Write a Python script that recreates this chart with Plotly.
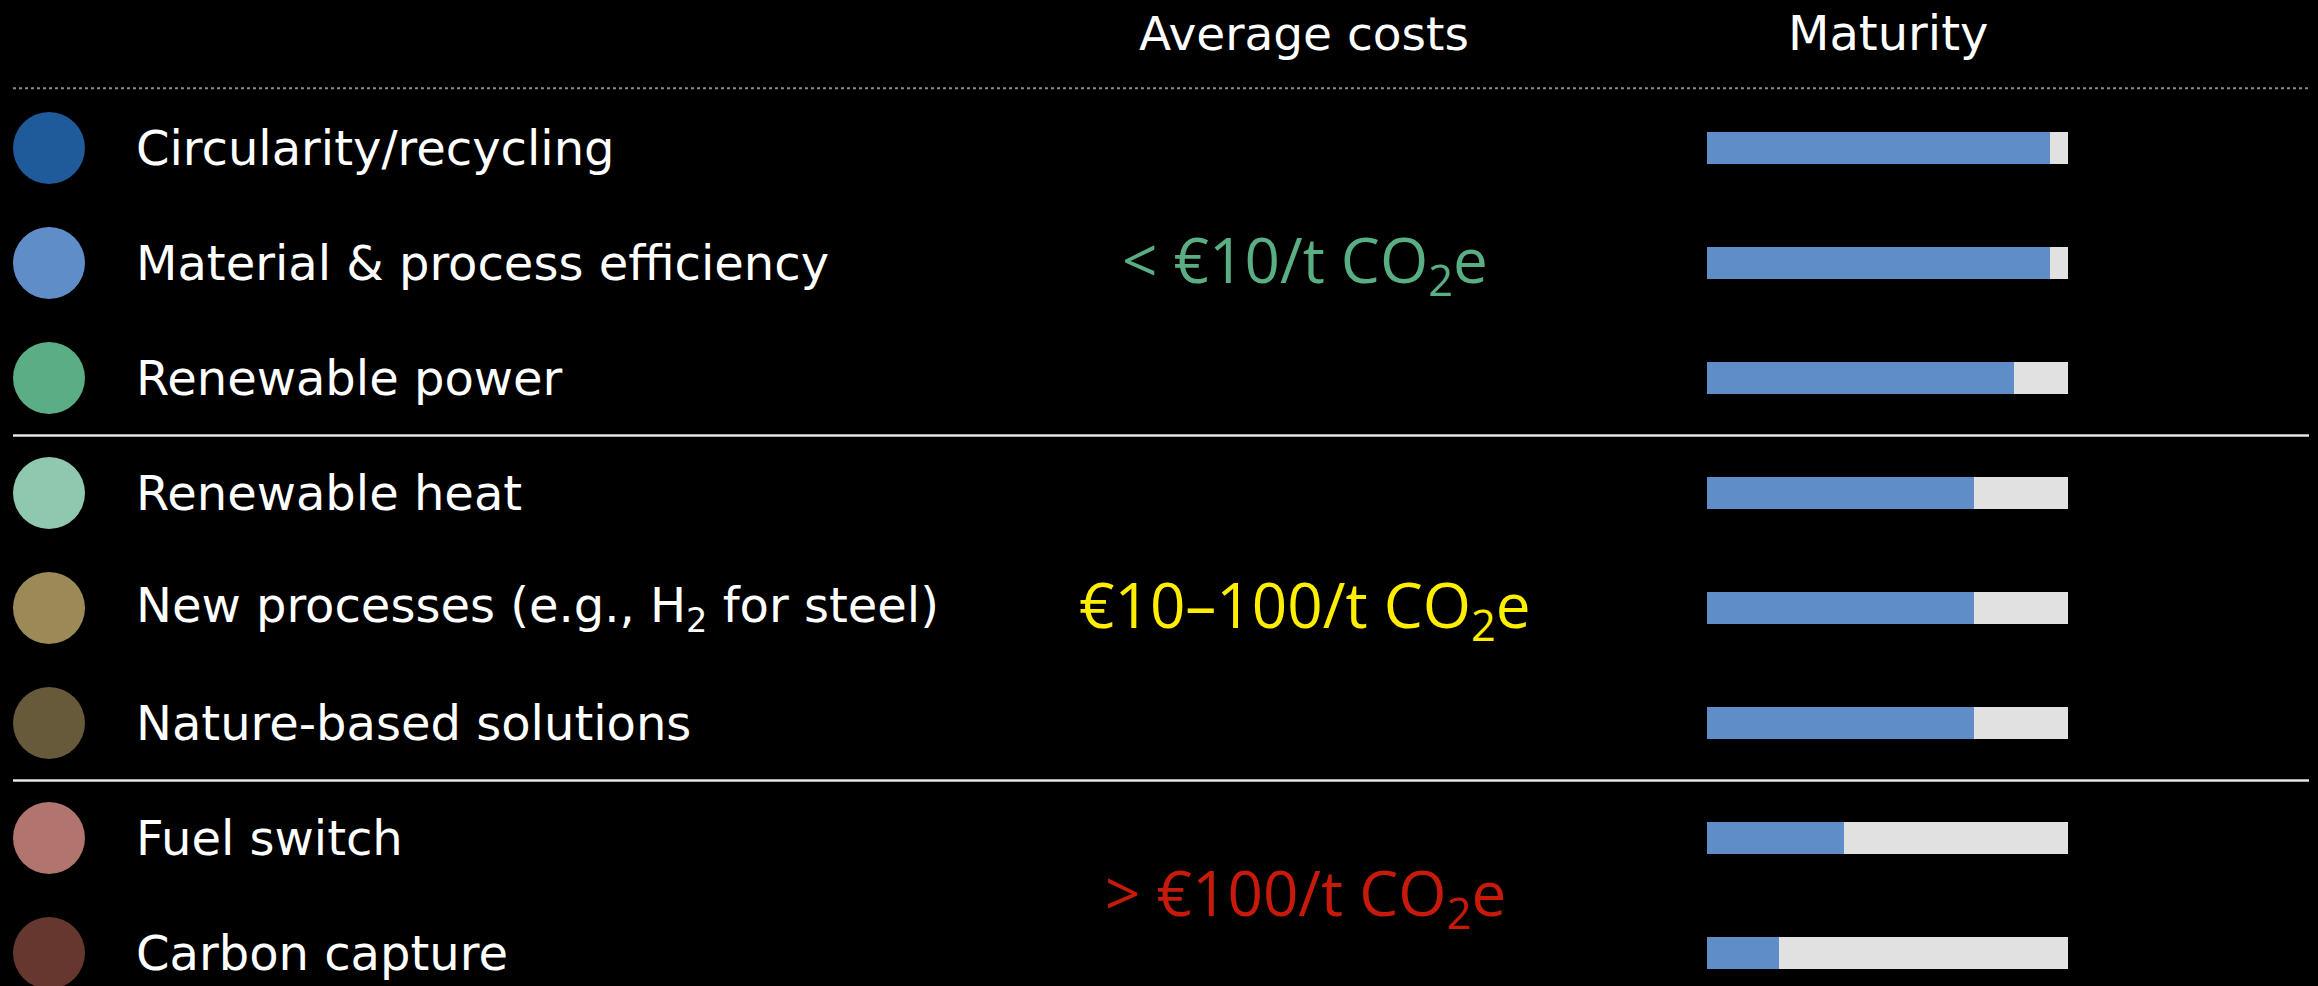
import plotly.graph_objects as go

# ---- data ----
technologies = [
    "Circularity/recycling",
    "Material & process efficiency",
    "Renewable power",
    "Renewable heat",
    "New processes (e.g., H<sub>2</sub> for steel)",
    "Nature-based solutions",
    "Fuel switch",
    "Carbon capture",
]
tech_colors = ["#1f5a9a", "#5f8dc8", "#5aad84", "#8fc8ae",
               "#9b8a58", "#665a3b", "#b1746f", "#66372f"]
maturity = [0.95, 0.95, 0.85, 0.74, 0.74, 0.74, 0.38, 0.20]
cost_group = [0, 0, 0, 1, 1, 1, 2, 2]
cost_labels = ["< €10/t CO<sub>2</sub>e", "€10–100/t CO<sub>2</sub>e", "> €100/t CO<sub>2</sub>e"]
cost_colors = ["#5aae84", "#ffee00", "#c81a0a"]
headers = ["Average costs", "Maturity"]

W, H = 2318, 986
rows = list(range(1, len(technologies) + 1))

LABEL_FONT = "DejaVu Sans"
LABEL_SIZE = 48
COST_FONT = "Open Sans"

fig = go.Figure()

# circles
fig.add_trace(go.Scatter(
    x=[49] * len(rows), y=rows, mode="markers",
    marker=dict(size=72, color=tech_colors, line=dict(width=0)),
    xaxis="x", yaxis="y", hoverinfo="skip", showlegend=False))

# maturity bars: gray background (full scale) + blue value
fig.add_trace(go.Bar(
    y=rows, x=[1] * len(rows), orientation="h", width=0.278,
    marker=dict(color="#e1e1e1", line=dict(width=0)),
    xaxis="x2", yaxis="y", hoverinfo="skip", showlegend=False))
fig.add_trace(go.Bar(
    y=rows, x=maturity, orientation="h", width=0.278,
    marker=dict(color="#5f8dc8", line=dict(width=0)),
    xaxis="x2", yaxis="y", showlegend=False))

annotations = []
for r, t in zip(rows, technologies):
    annotations.append(dict(x=134, y=r, xref="x", yref="y", text=t, showarrow=False,
                            xanchor="left", yanchor="middle",
                            font=dict(family=LABEL_FONT, size=LABEL_SIZE, color="white")))

annotations.append(dict(x=1304, y=0, xref="x", yref="y", text=headers[0], showarrow=False,
                        xanchor="center", yanchor="middle",
                        font=dict(family=LABEL_FONT, size=47, color="white")))
annotations.append(dict(x=0.5, y=0, xref="x2", yref="y", text=headers[1], showarrow=False,
                        xanchor="center", yanchor="middle",
                        font=dict(family=LABEL_FONT, size=LABEL_SIZE, color="white")))

for g, (lab, col) in enumerate(zip(cost_labels, cost_colors)):
    grp_rows = [r for r, cg in zip(rows, cost_group) if cg == g]
    yc = sum(grp_rows) / len(grp_rows)
    annotations.append(dict(x=1305, y=yc, xref="x", yref="y", text=lab, showarrow=False,
                            xanchor="center", yanchor="middle",
                            font=dict(family=COST_FONT, size=62, color=col)))

shapes = [
    dict(type="line", xref="x", yref="y", x0=13, x1=2309, y0=0.48, y1=0.48,
         line=dict(color="#8a8a8a", width=2, dash="dot")),
]
for g in range(1, 3):
    prev_last = max(r for r, cg in zip(rows, cost_group) if cg == g - 1)
    shapes.append(dict(type="line", xref="x", yref="y", x0=13, x1=2309,
                       y0=prev_last + 0.5, y1=prev_last + 0.5,
                       line=dict(color="#e6e6e6", width=2.5)))

fig.update_layout(
    width=W, height=H,
    margin=dict(l=0, r=0, t=0, b=0),
    paper_bgcolor="black", plot_bgcolor="black",
    barmode="overlay", bargap=0,
    xaxis=dict(range=[0, W], domain=[0, 1], visible=False, fixedrange=True),
    xaxis2=dict(range=[0, 1], domain=[1707 / W, 2068 / W], anchor="y",
                visible=False, fixedrange=True),
    yaxis=dict(range=[(H - 33) / 115, -33 / 115], visible=False, fixedrange=True),
    annotations=annotations,
    shapes=shapes,
    showlegend=False,
)

fig.write_html(
    "out.html",
    config={"displayModeBar": False},
    post_script="document.body.style.margin='0';document.body.style.background='black';"
                "document.body.style.overflow='hidden';",
)
